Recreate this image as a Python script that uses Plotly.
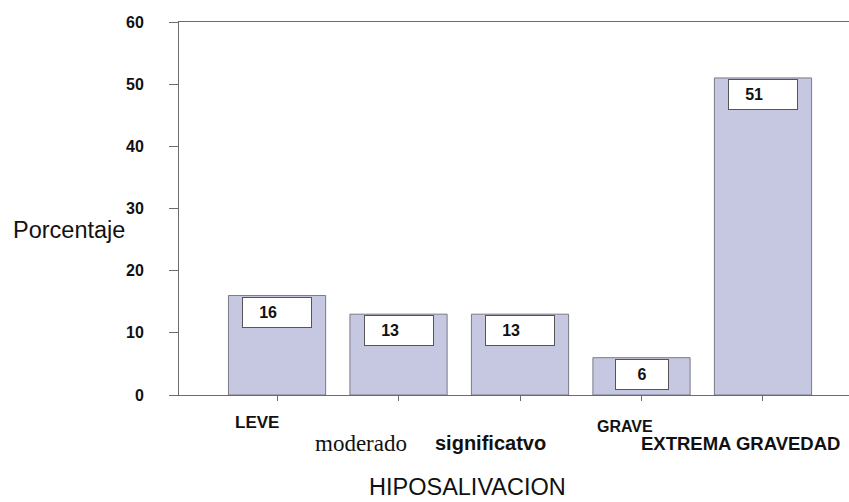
import plotly.graph_objects as go

categories = ["LEVE", "moderado", "significatvo", "GRAVE", "EXTREMA GRAVEDAD"]
values = [16, 13, 13, 6, 51]
y_ticks = [0, 10, 20, 30, 40, 50, 60]

W, H = 849, 502
L, R, T, B = 179, 0, 22, 107
pw = W - L - R
ph = H - T - B

def px(x):
    return (x - L) / pw

def py(y):
    return (H - B - y) / ph

AX = "#6b6b6b"
FONT = "Liberation Sans"

fig = go.Figure()
fig.add_trace(go.Bar(
    x=categories, y=values,
    marker=dict(color="#c6c7e1", line=dict(color="#7a7a86", width=1)),
    width=0.8,
    hoverinfo="skip",
))

# value boxes
for c, v in zip(categories, values):
    s = str(v)
    two = len(s) > 1
    fig.add_annotation(
        x=c, y=v, xref="x", yref="y",
        text="<b>" + s + "</b>" + ("&nbsp;&nbsp;&nbsp;&nbsp;" if two else ""),
        showarrow=False, yanchor="top", yshift=-1,
        width=66 if two else 50, height=27, align="center",
        bgcolor="white", bordercolor="#555", borderwidth=1, borderpad=1,
        font=dict(family=FONT, size=16, color="#111"),
    )

# category labels (placed as in the scanned original)
labels = [
    (categories[0], 233, 422, dict(family=FONT, size=17, weight="bold")),
    (categories[1], 313, 443, dict(family="Liberation Serif", size=23)),
    (categories[2], 433, 443, dict(family=FONT, size=20, weight="bold")),
    (categories[3], 595, 426, dict(family=FONT, size=16, weight="bold")),
    (categories[4], 639, 443, dict(family=FONT, size=18.5, weight="bold")),
]
for t, x, y, f in labels:
    f = dict(f)
    f["color"] = "#111"
    fig.add_annotation(x=px(x), y=py(y), xref="paper", yref="paper", text=t,
                       showarrow=False, xanchor="left", yanchor="middle", font=f)

# axis titles
fig.add_annotation(x=px(368), y=py(501), xref="paper", yref="paper", text="HIPOSALIVACION",
                   showarrow=False, xanchor="left", yanchor="bottom", borderpad=0,
                   font=dict(family=FONT, size=23.5, color="#111"))
fig.add_annotation(x=px(11), y=py(230), xref="paper", yref="paper", text="Porcentaje",
                   showarrow=False, xanchor="left", yanchor="middle",
                   font=dict(family=FONT, size=23.5, color="#111"))

fig.update_layout(
    width=W, height=H,
    margin=dict(l=L, r=R, t=T, b=B, pad=0),
    paper_bgcolor="white", plot_bgcolor="white",
    showlegend=False,
    bargap=0.2,
)
fig.update_xaxes(
    type="category", range=[-0.807, 4.708],
    showgrid=False, zeroline=False,
    showline=True, linecolor=AX, linewidth=1, mirror=True,
    ticks="outside", ticklen=5, tickcolor=AX,
    showticklabels=False,
)
fig.update_yaxes(
    range=[0, 60], tickvals=y_ticks,
    showgrid=False, zeroline=False,
    showline=True, linecolor=AX, linewidth=1,
    ticks="outside", ticklen=9, tickcolor=AX,
    ticklabelstandoff=22,
    tickfont=dict(family=FONT, size=16, weight="bold", color="#111"),
)

fig.write_html(
    "out.html",
    config={"displayModeBar": False},
    post_script="document.body.style.margin='0';document.body.style.overflow='hidden';",
)
